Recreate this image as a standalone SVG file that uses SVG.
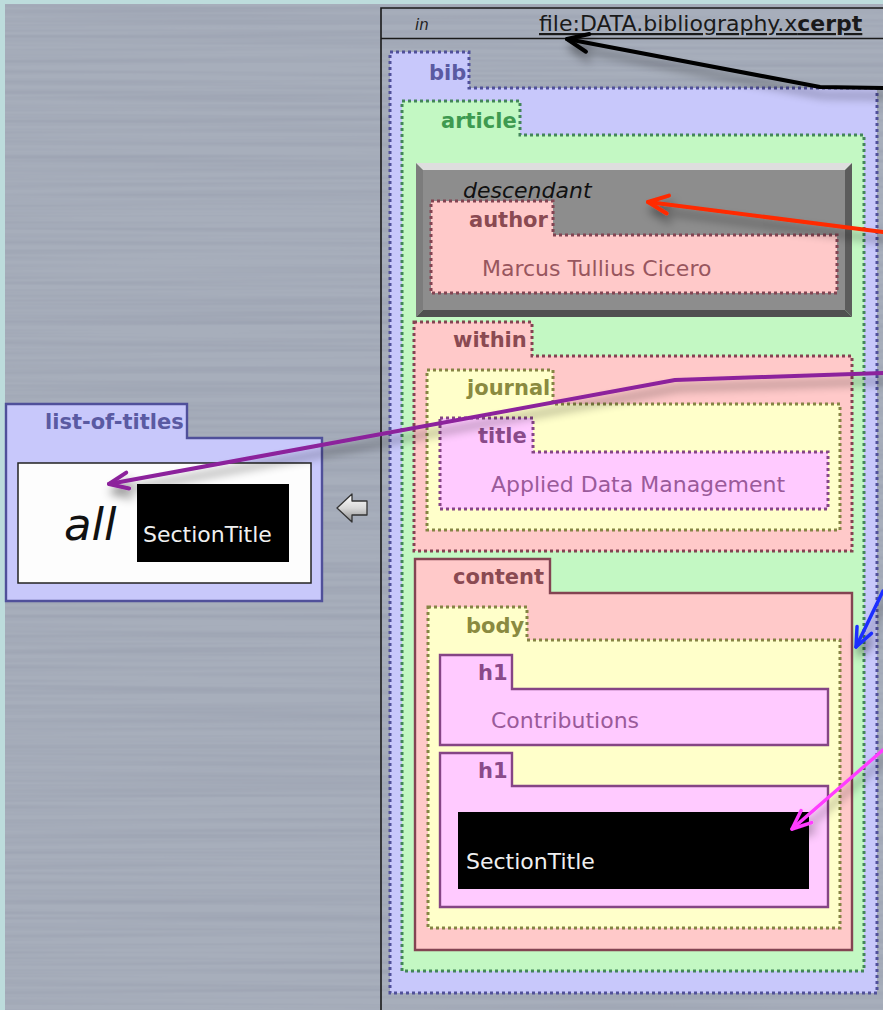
<svg xmlns="http://www.w3.org/2000/svg" width="883" height="1010" viewBox="0 0 883 1010">
  <style>
    .lbl { font-family: "DejaVu Sans", Verdana, sans-serif; font-size: 21px; font-weight: bold; }
    .txt { font-family: "DejaVu Sans", Verdana, sans-serif; font-size: 22px; }
    .it { font-family: "DejaVu Sans", Verdana, sans-serif; font-style: italic; }
    .dot { stroke-width: 3; stroke-dasharray: 3 3; }
    .blueBox { fill: #c8c8fb; stroke: #50509a; }
    .greenBox { fill: #c3f8c3; stroke: #43855a; }
    .pinkBox { fill: #ffc9c9; stroke: #834452; }
    .yellowBox { fill: #ffffca; stroke: #858444; }
    .purpleBox { fill: #ffcaff; stroke: #854585; }
    .solid { stroke-width: 2.4; }
    .cBlue { fill: #5a5aa2; }
    .cGreen { fill: #3e9a50; }
    .cPink { fill: #8a4a52; }
    .cYellow { fill: #8a8a40; }
    .cPurple { fill: #8a4a8a; }
    .conn { fill: none; stroke-linecap: round; stroke-linejoin: round; }
  </style>
  <defs>
    <filter id="brush" x="0" y="0" width="100%" height="100%">
      <feTurbulence type="fractalNoise" baseFrequency="0.002 0.2" numOctaves="2" seed="7"/>
      <feColorMatrix type="matrix" values="0 0 0 0 0.32  0 0 0 0 0.35  0 0 0 0 0.43  1.5 0 0 0 -0.55"/>
    </filter>
    <filter id="shadow" x="-10%" y="-10%" width="130%" height="140%">
      <feDropShadow dx="3" dy="8" stdDeviation="5" flood-color="#000" flood-opacity="0.45"/>
    </filter>
    <linearGradient id="hollow" x1="0" y1="0" x2="0" y2="1">
      <stop offset="0" stop-color="#ffffff"/>
      <stop offset="0.5" stop-color="#d8d8d8"/>
      <stop offset="1" stop-color="#8a8a8a"/>
    </linearGradient>
    <marker id="ahBlack" viewBox="-24 -14 28 28" refX="0" refY="0" markerWidth="28" markerHeight="28" markerUnits="userSpaceOnUse" orient="auto">
      <path d="M-21,-9 L0,0 L-21,9" fill="none" stroke="#000" stroke-width="4" stroke-linecap="round" stroke-linejoin="round"/>
    </marker>
    <marker id="ahRed" viewBox="-24 -14 28 28" refX="0" refY="0" markerWidth="28" markerHeight="28" markerUnits="userSpaceOnUse" orient="auto">
      <path d="M-20,-9 L0,0 L-20,9" fill="none" stroke="#ff2a00" stroke-width="4" stroke-linecap="round" stroke-linejoin="round"/>
    </marker>
    <marker id="ahPurple" viewBox="-24 -14 28 28" refX="0" refY="0" markerWidth="28" markerHeight="28" markerUnits="userSpaceOnUse" orient="auto">
      <path d="M-19,-8 L0,0 L-19,8" fill="none" stroke="#8c239c" stroke-width="4" stroke-linecap="round" stroke-linejoin="round"/>
    </marker>
    <marker id="ahBlue" viewBox="-24 -14 28 28" refX="0" refY="0" markerWidth="28" markerHeight="28" markerUnits="userSpaceOnUse" orient="auto">
      <path d="M-19,-8 L0,0 L-19,8" fill="none" stroke="#1f2eff" stroke-width="3.5" stroke-linecap="round" stroke-linejoin="round"/>
    </marker>
    <marker id="ahMagenta" viewBox="-24 -14 28 28" refX="0" refY="0" markerWidth="28" markerHeight="28" markerUnits="userSpaceOnUse" orient="auto">
      <path d="M-19,-8 L0,0 L-19,8" fill="none" stroke="#ff3cff" stroke-width="3.5" stroke-linecap="round" stroke-linejoin="round"/>
    </marker>
  </defs>

  <!-- frame and brushed-metal canvas -->
  <rect x="0" y="0" width="883" height="1010" fill="#bddcdc"/>
  <rect x="5" y="4" width="878" height="1006" fill="#a7aebb"/>
  <rect x="5" y="4" width="878" height="1006" filter="url(#brush)"/>

  <!-- input resource panel -->
  <g id="resource">
    <path d="M381 1010 V8 H883" fill="none" stroke="#1a1a1a" stroke-width="1.6"/>
    <line x1="381" y1="38.5" x2="883" y2="38.5" stroke="#1a1a1a" stroke-width="1.6"/>
    <text x="415" y="30" class="it" font-size="15" fill="#222">in</text>
    <text x="539" y="31" class="txt" font-size="23" fill="#1a1a1a" text-decoration="underline">file:DATA.bibliography.x<tspan font-weight="bold">cerpt</tspan></text>
  </g>

  <g id="bib">
    <path d="M390 52 H469 V88 H877 V993 H390 Z" class="blueBox dot"/>
    <text x="429" y="80" class="lbl cBlue">bib</text>
  </g>

  <g id="article">
    <path d="M402 101 H520 V135 H864 V971 H402 Z" class="greenBox dot"/>
    <text x="441" y="128" class="lbl cGreen">article</text>
  </g>

  <g id="descendant">
    <polygon points="416,163 852,163 845,170 423,170" fill="#dedede"/>
    <polygon points="416,163 423,170 423,310 416,317" fill="#7c7c7c"/>
    <polygon points="852,163 852,317 845,310 845,170" fill="#5c5c5c"/>
    <polygon points="416,317 423,310 845,310 852,317" fill="#505050"/>
    <rect x="423" y="170" width="422" height="140" fill="#8d8d8d"/>
    <text x="463" y="198" class="it" font-size="22" fill="#111">descendant</text>
  </g>

  <g id="author">
    <path d="M431 201 H553 V235 H837 V293 H431 Z" class="pinkBox dot"/>
    <text x="469" y="227" class="lbl cPink">author</text>
    <text x="482" y="276" class="txt" fill="#98565e">Marcus Tullius Cicero</text>
  </g>

  <g id="within">
    <path d="M414 322 H532 V356 H852 V551 H414 Z" class="pinkBox dot"/>
    <text x="453" y="347" class="lbl cPink">within</text>
  </g>

  <g id="journal">
    <path d="M427 370 H553 V404 H840 V530 H427 Z" class="yellowBox dot"/>
    <text x="467" y="395" class="lbl cYellow">journal</text>
  </g>

  <g id="title">
    <path d="M440 418 H533 V452 H828 V509 H440 Z" class="purpleBox dot"/>
    <text x="478" y="443" class="lbl cPurple">title</text>
    <text x="491" y="492" class="txt" fill="#9a5a9a">Applied Data Management</text>
  </g>

  <g id="content">
    <path d="M415 559 H550 V593 H852 V950 H415 Z" class="pinkBox solid" stroke="#8a5440"/>
    <text x="453" y="584" class="lbl cPink">content</text>
  </g>

  <g id="body">
    <path d="M428 607 H527 V640 H840 V928 H428 Z" class="yellowBox dot"/>
    <text x="466" y="633" class="lbl cYellow">body</text>
  </g>

  <g id="h1-contributions">
    <path d="M440 655 H512 V689 H828 V745 H440 Z" class="purpleBox solid"/>
    <text x="478" y="680" class="lbl cPurple">h1</text>
    <text x="491" y="728" class="txt" fill="#9a5a9a">Contributions</text>
  </g>

  <g id="h1-section">
    <path d="M440 753 H512 V786 H828 V907 H440 Z" class="purpleBox solid"/>
    <text x="478" y="778" class="lbl cPurple">h1</text>
    <rect x="458" y="812" width="351" height="77" fill="#000"/>
    <text x="466" y="869" class="txt" font-size="23" fill="#f0f0f0">SectionTitle</text>
  </g>

  <!-- construct term -->
  <g id="list-of-titles">
    <path d="M6 404 H187 V438 H322 V601 H6 Z" class="blueBox solid"/>
    <text x="45" y="429" class="lbl cBlue">list-of-titles</text>
    <rect x="18" y="463" width="293" height="120" fill="#fdfdfd" stroke="#222" stroke-width="1.5"/>
    <text x="64" y="540" class="it" font-size="45" fill="#111">all</text>
    <rect x="137" y="484" width="152" height="78" fill="#000"/>
    <text x="143" y="542" class="txt" font-size="23" fill="#f0f0f0">SectionTitle</text>
  </g>

  <g id="rule-arrow">
    <polygon points="337,508 352,494 352,501 367,501 367,515 352,515 352,522" fill="url(#hollow)" stroke="#333" stroke-width="1.3" stroke-linejoin="round"/>
  </g>

  <!-- variable bindings and resource link -->
  <g id="connectors" filter="url(#shadow)">
    <polyline class="conn" points="883,88 820,87 567,39" stroke="#000" stroke-width="4" marker-end="url(#ahBlack)"/>
    <line class="conn" x1="883" y1="232" x2="648" y2="202" stroke="#ff2a00" stroke-width="4" marker-end="url(#ahRed)"/>
    <polyline class="conn" points="883,373 675,380 109,484" stroke="#8c239c" stroke-width="4" marker-end="url(#ahPurple)"/>
    <line class="conn" x1="883" y1="591" x2="856" y2="647" stroke="#1f2eff" stroke-width="3.5" marker-end="url(#ahBlue)"/>
    <line class="conn" x1="883" y1="750" x2="792" y2="829" stroke="#ff3cff" stroke-width="3.5" marker-end="url(#ahMagenta)"/>
  </g>
</svg>
